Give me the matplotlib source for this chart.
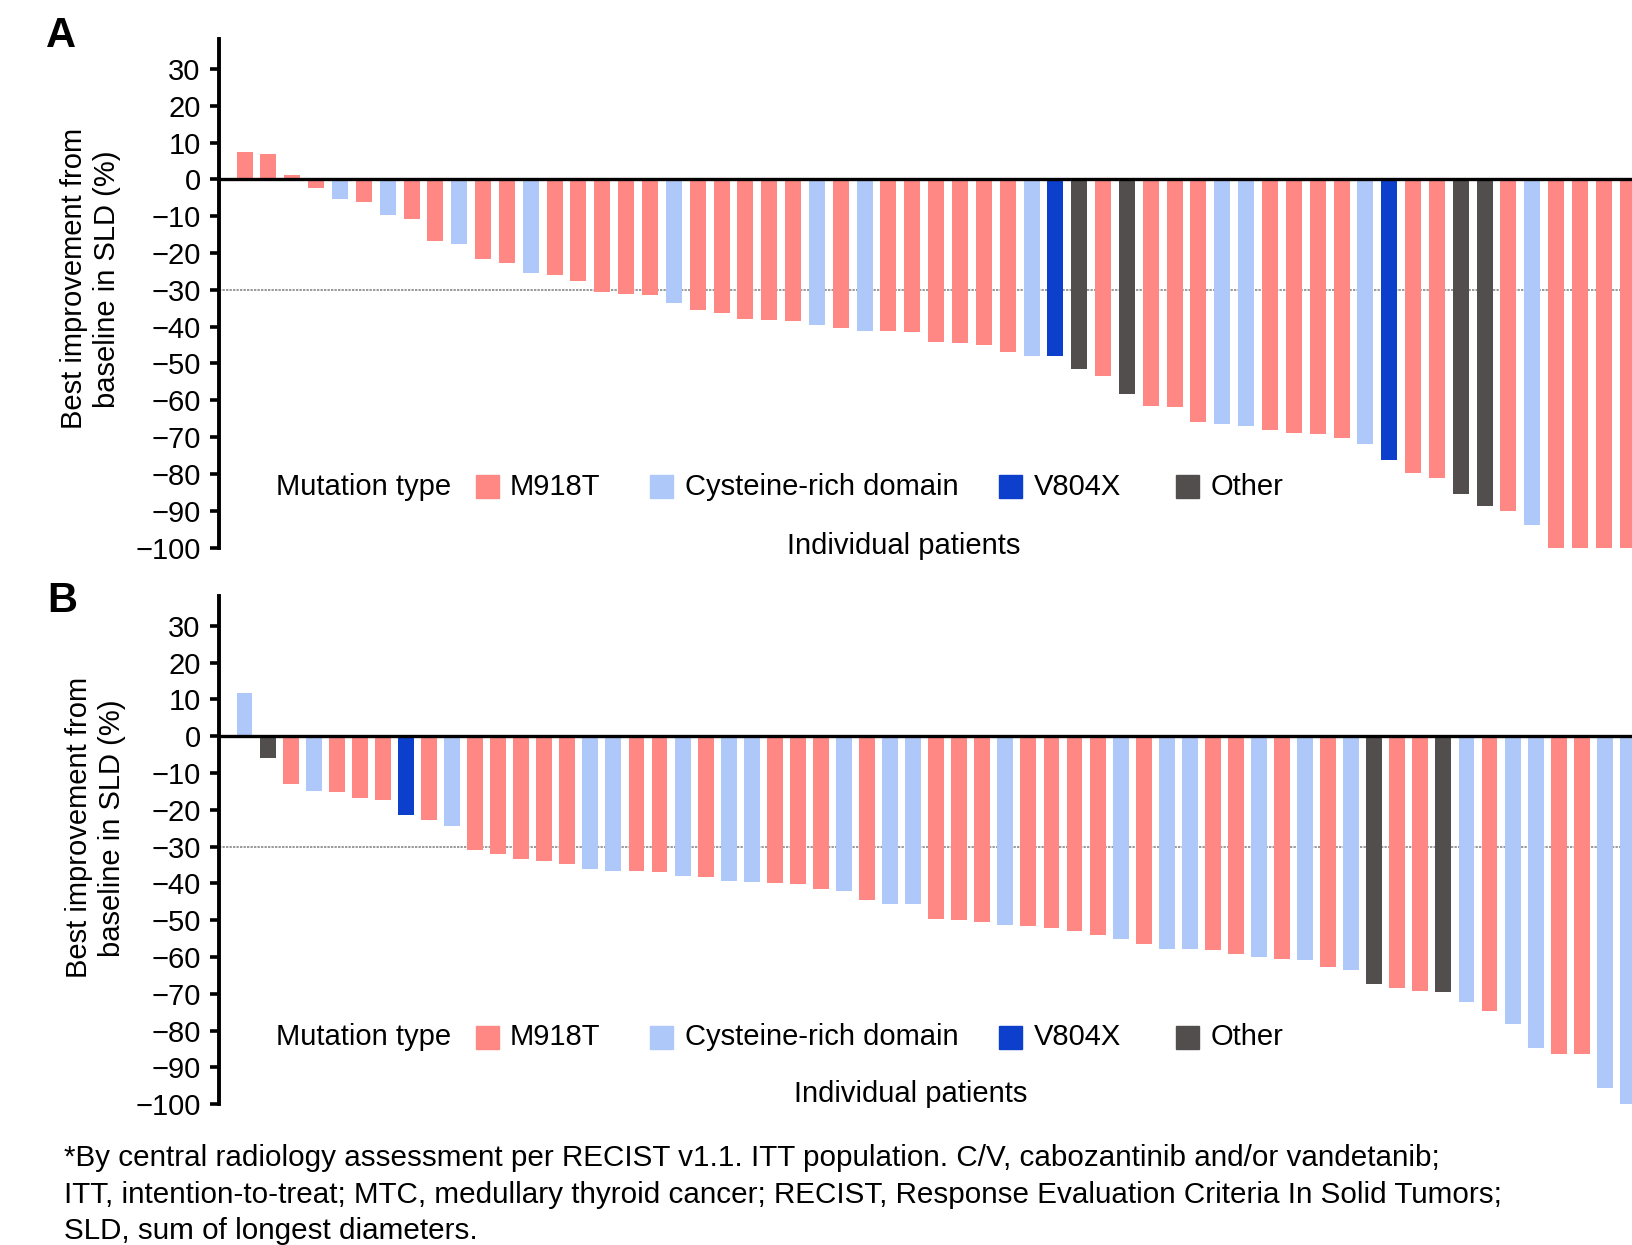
import matplotlib
matplotlib.use("Agg")
import matplotlib.pyplot as plt
from matplotlib.patches import Rectangle
import matplotlib.transforms as mtransforms

plt.rcParams['font.family'] = ['Liberation Sans', 'DejaVu Sans']

# Mutation type codes: M = M918T, C = Cysteine-rich domain, V = V804X, O = Other
types_a = list("MMMMCMCMMCMMCMMMMMCMMMMMCMCMMMMMMCVOMOMMMCCMMMMCVMMOOMCMMMM")
values_a = [7.5, 6.9, 1.2, -2.3, -5.4, -6.2, -9.7, -10.8, -16.7, -17.6,
            -21.5, -22.8, -25.5, -26.1, -27.7, -30.7, -31.0, -31.3, -33.7, -35.4,
            -36.2, -37.8, -38.1, -38.6, -39.5, -40.5, -41.1, -41.1, -41.4, -44.1,
            -44.4, -44.9, -46.8, -47.9, -47.9, -51.5, -53.4, -58.3, -61.5, -61.8,
            -65.9, -66.5, -67.0, -68.1, -68.9, -69.2, -70.3, -71.9, -76.3, -79.8,
            -81.2, -85.5, -88.8, -90.2, -94.0, -100, -100, -100, -100]

types_b = list("COMCMMMVMCMMMMMCCMMCMCCMMMCMCCMMMCMMMMCMCCMMCMCMCOMMOCMCCMMCC")
values_b = [11.7, -6.0, -13.0, -14.9, -15.2, -16.8, -17.4, -21.5, -22.8, -24.4,
            -30.9, -32.0, -33.4, -33.9, -34.8, -36.1, -36.7, -36.7, -36.9, -38.0,
            -38.3, -39.4, -39.6, -39.9, -40.2, -41.5, -42.1, -44.5, -45.6, -45.6,
            -49.7, -50.0, -50.5, -51.3, -51.6, -52.1, -52.9, -54.0, -55.1, -56.5,
            -57.8, -57.8, -58.1, -59.2, -60.0, -60.5, -60.8, -62.7, -63.5, -67.3,
            -68.4, -69.2, -69.5, -72.2, -74.7, -78.2, -84.7, -86.3, -86.3, -95.5,
            -100]

type_names = {'M': 'M918T', 'C': 'Cysteine-rich domain', 'V': 'V804X', 'O': 'Other'}
colors = {'M': '#FF8884', 'C': '#AEC8FA', 'V': '#0B3FCC', 'O': '#524E4D'}
yticks = list(range(30, -101, -10))
ylabel = 'Best improvement from\nbaseline in SLD (%)'

footnote = [
    '*By central radiology assessment per RECIST v1.1. ITT population. C/V, cabozantinib and/or vandetanib;',
    'ITT, intention-to-treat; MTC, medullary thyroid cancer; RECIST, Response Evaluation Criteria In Solid Tumors;',
    'SLD, sum of longest diameters.',
]

FS = 21


def draw_panel(ax, types, values, xlim, width, legend_y, xlabel_pos, ylabel_pos):
    x = list(range(len(values)))
    ax.bar(x, values, width=width, color=[colors[t] for t in types], zorder=2)
    ax.axhline(0, color='black', lw=2.4, zorder=3)
    ax.axhline(-30, color='#999999', lw=1.4, ls=(0, (1.2, 0.6)), zorder=1)

    ax.set_xlim(*xlim)
    ax.set_ylim(-100, 38)
    ax.set_yticks(yticks)
    ax.set_xticks([])
    for side in ['top', 'right', 'bottom']:
        ax.spines[side].set_visible(False)
    ax.spines['left'].set_linewidth(2.8)
    ax.spines['left'].set_bounds(-100, 38)
    ax.tick_params(axis='y', length=6.5, width=2.6, labelsize=FS, pad=6.5)

    ax.set_ylabel(ylabel, fontsize=FS, linespacing=1.25)
    ax.yaxis.set_label_coords(*ylabel_pos)

    # legend drawn by hand in one row
    trans = mtransforms.blended_transform_factory(ax.transAxes, ax.transData)
    ax.text(0.0405, legend_y, 'Mutation type', transform=trans, fontsize=FS,
            va='center', ha='left')
    patch_x = {'M': 0.1818, 'C': 0.3055, 'V': 0.5523, 'O': 0.6775}
    for key, px in patch_x.items():
        ax.add_patch(Rectangle((px, legend_y - 3.1), 0.0162, 6.2, transform=trans,
                               color=colors[key], clip_on=False, zorder=4))
        ax.text(px + 0.0244, legend_y, type_names[key], transform=trans,
                fontsize=FS, va='center', ha='left')

    ax.text(xlabel_pos[0], xlabel_pos[1], 'Individual patients', transform=trans,
            fontsize=FS, va='center', ha='center')


fig = plt.figure(figsize=(16.32, 12.45), dpi=100)
ax_a = fig.add_axes([0.134, 0.5602, 0.866, 0.4081])
ax_b = fig.add_axes([0.134, 0.1130, 0.866, 0.4081])

draw_panel(ax_a, types_a, values_a, (-1.086, 58.18), 0.67, -83.5,
           (0.4845, -99.7), (-0.069, 0.529))
draw_panel(ax_b, types_b, values_b, (-1.12, 60.18), 0.69, -81.8,
           (-0.0 + 0.4897, -97.2), (-0.0655, 0.544))

fig.text(61 / 1632, 1 - 36 / 1245, 'A', fontsize=30, fontweight='bold',
         ha='center', va='center')
fig.text(62 / 1632, 1 - 601 / 1245, 'B', fontsize=30, fontweight='bold',
         ha='center', va='center')

for i, line in enumerate(footnote):
    fig.text(0.0395, 0.0632 - i * 0.0292, line, fontsize=21.3,
             ha='left', va='baseline')

fig.savefig('out.png', dpi=100)
